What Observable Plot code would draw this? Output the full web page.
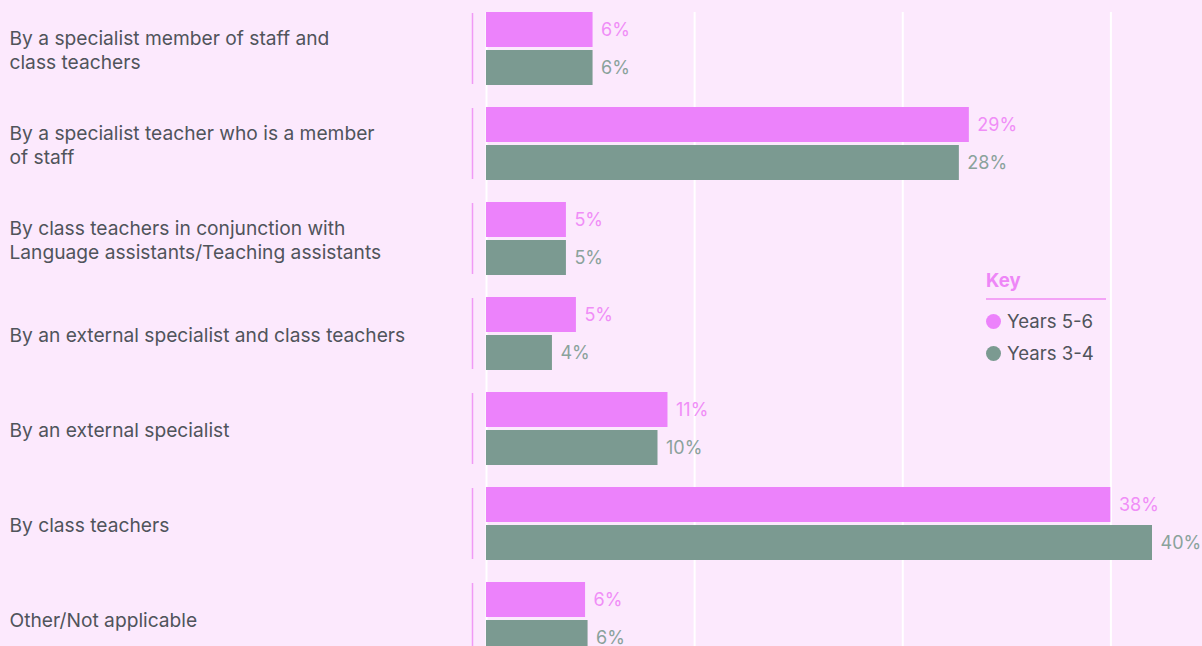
<!DOCTYPE html>
<html><head><meta charset="utf-8">
<script src="https://cdn.jsdelivr.net/npm/d3@7"></script>
<script src="https://cdn.jsdelivr.net/npm/@observablehq/plot@0.6"></script>
<style>
html,body{margin:0;padding:0;background:#fce9fd;overflow:hidden;width:1202px;height:646px}
#chart{position:relative;width:1202px;height:646px;overflow:hidden;font-family:Inter,"Noto Sans",sans-serif}
#key{position:absolute;left:986px;top:268px;width:120px;color:#50545b;font-size:18.6px}
#key .title{color:#ee86f7;font-weight:700;font-size:18.6px;line-height:24px;padding-bottom:6px;margin-bottom:5px;border-bottom:2px solid #f3a3f6}
#key .item{display:flex;align-items:center;height:32px}
#key .dot{width:15px;height:15px;border-radius:50%;margin-right:6px}
</style></head><body><div id="chart"></div>
<script>
const categories = [
  "By a specialist member of staff and\nclass teachers",
  "By a specialist teacher who is a member\nof staff",
  "By class teachers in conjunction with\nLanguage assistants/Teaching assistants",
  "By an external specialist and class teachers",
  "By an external specialist",
  "By class teachers",
  "Other/Not applicable"
];
const series = ["Years 5-6", "Years 3-4"];
const years56 = [6.4, 29.0, 4.8, 5.4, 10.9, 37.5, 5.95];
const years34 = [6.4, 28.4, 4.8, 3.96, 10.3, 40.0, 6.1];
const labels56 = ["6%", "29%", "5%", "5%", "11%", "38%", "6%"];
const labels34 = ["6%", "28%", "5%", "4%", "10%", "40%", "6%"];
const gridTicks = [0, 12.5, 25, 37.5];

const barColors = ["#ec82fb", "#7b9a91"];
const textColors = ["#f08ef7", "#8aa29b"];

const data = categories.flatMap((c, i) => [
  {category: c, series: series[0], value: years56[i], label: labels56[i]},
  {category: c, series: series[1], value: years34[i], label: labels34[i]}
]);

const plot = Plot.plot({
  width: 1202, height: 680,
  marginLeft: 486, marginRight: 50, marginTop: 12, marginBottom: 25,
  style: {background: "transparent", fontFamily: "Inter, 'Noto Sans', sans-serif", fontSize: "18px"},
  x: {domain: [0, 40], axis: null},
  fy: {domain: categories, paddingInner: 22/95, paddingOuter: 0, axis: null},
  y: {domain: series, paddingInner: 3/38, paddingOuter: 0, axis: null},
  color: {domain: series, range: barColors},
  marks: [
    Plot.ruleX(gridTicks, {stroke: "#ffffff", strokeWidth: 2, insetBottom: -22}),
    Plot.ruleX([0], {dx: -14, stroke: "#f09af6", strokeWidth: 1.5, insetTop: 1, insetBottom: 1}),
    Plot.barX(data, {fy: "category", y: "series", x: "value", fill: "series"}),
    Plot.text(data, {fy: "category", y: "series", x: "value", text: "label", dx: 8, textAnchor: "start",
      fill: d => textColors[series.indexOf(d.series)], fontSize: 18}),
    Plot.text(categories, {fy: d => d, text: d => d, frameAnchor: "left", dx: -477, textAnchor: "start",
      lineHeight: 1.25, fill: "#50545b", fontSize: 19.2})
  ]
});

const chart = document.getElementById("chart");
chart.appendChild(plot);

const key = document.createElement("div");
key.id = "key";
key.innerHTML = `<div class="title">Key</div>` + series.map((s, i) =>
  `<div class="item"><span class="dot" style="background:${barColors[i]}"></span>${s}</div>`).join("");
chart.appendChild(key);
</script>
</body></html>
